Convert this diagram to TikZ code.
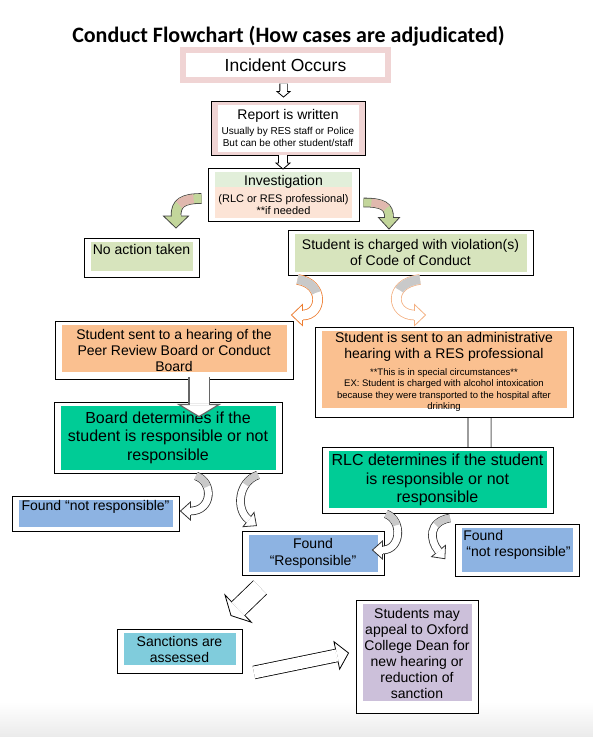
\documentclass[tikz,border=0pt]{standalone}
\usepackage{fontspec}
\setmainfont{Liberation Sans}
\newfontfamily\titlefont{Carlito}
\usetikzlibrary{calc, backgrounds}
\definecolor{cpink}{HTML}{F0D4D4}
\definecolor{cgreenL}{HTML}{E2EFDA}
\definecolor{cpeach}{HTML}{FCE4D6}
\definecolor{cgreen}{HTML}{D7E4BD}
\definecolor{corange}{HTML}{FAC090}
\definecolor{cteal}{HTML}{00CC96}
\definecolor{cblue}{HTML}{8DB3E2}
\definecolor{ccyan}{HTML}{80CCDC}
\definecolor{clav}{HTML}{CCC0DA}
\definecolor{cdark}{HTML}{ED7D31}
\definecolor{clight}{HTML}{F4B183}
\definecolor{cgrey}{HTML}{C9C9C9}
\definecolor{colive}{HTML}{C3D69B}
\definecolor{crose}{HTML}{E0B8AE}
\newcommand{\fs}[2]{\fontsize{#1}{#2}\selectfont\lineskiplimit=-20pt\relax}
\tikzset{
  cbox/.style={draw=black, line width=0.9pt, fill=white, inner sep=2pt, align=center, font=\fs{14}{16}},
  inb/.store in=\inb, inb=4,
  infill/.style={path picture={\fill[#1] ($(path picture bounding box.south west)+(6.5,-\inb)$) rectangle ($(path picture bounding box.north east)+(-6.5,3.5)$);}},
  blk w/.store in=\blkw, blk hw/.store in=\blkhw, blk hl/.store in=\blkhl, blk lw/.store in=\blklw,
  blk fill/.store in=\blkfill, blk line/.store in=\blkline,
  blk top/.store in=\blktop, blk toplen/.store in=\blktoplen, blk topoff/.store in=\blktopoff,
  blk w=8pt, blk hw=9pt, blk hl=10pt, blk lw=0.8pt, blk fill=white, blk line=black,
  blk top=white, blk toplen=0.1pt, blk topoff=0.01pt,
  hollow/.style={blk fill=white, blk line=black},
  bigarrow/.style={blk fill=white, blk line=black!60, blk lw=1.2pt},
  greenbend/.style={blk fill=colive, blk line=black!75, blk top=crose, blk topoff=8pt, blk toplen=16pt},
  orangebend/.style={blk fill=white, blk line=#1, blk top=cgrey, blk toplen=24pt, blk w=9pt, blk hw=10.5pt, blk hl=11pt},
  greybend/.style={blk fill=white, blk line=black!80, blk top=cgrey, blk toplen=16pt, blk w=7pt, blk hw=9pt, blk hl=10pt},
}
% block arrow body, uses (blkS) (blkA) (blkB) (blkH)
\newcommand{\blkdraw}{%
  \draw[draw=\blkline, line width=\blklw, double=\blkfill, double distance=\blkw]
    (blkS) .. controls (blkA) and (blkB) .. (blkH);
  \draw[draw=\blktop, line width=\blkw, dash pattern=on 0pt off \blktopoff on \blktoplen off 2000pt]
    (blkS) .. controls (blkA) and (blkB) .. (blkH);
  \filldraw[fill=\blkfill, draw=\blkline, line width=\blklw]
    ($(blkH)!\blkhw!90:(blkB)$) -- ($(blkH)!-\blkhl!(blkB)$) -- ($(blkH)!\blkhw!-90:(blkB)$) -- cycle;
  \draw[draw=\blkfill, line width=\blkw] ($(blkH)!0.9pt!(blkB)$) -- ($(blkH)!-0.6pt!(blkB)$);}
% straight: start, tip
\newcommand{\blockarrow}[3][]{%
  \begin{scope}[#1]
    \coordinate (blkS) at #2;
    \coordinate (blkT) at #3;
    \coordinate (blkH) at ($(blkT)!\blkhl!(blkS)$);
    \coordinate (blkA) at ($(blkS)!0.33!(blkH)$);
    \coordinate (blkB) at ($(blkS)!0.66!(blkH)$);
    \blkdraw
  \end{scope}}
% curved: start, control offset from start, control offset from end, head base
\newcommand{\bentarrow}[5][]{%
  \begin{scope}[#1]
    \coordinate (blkS) at #2;
    \coordinate (blkH) at #5;
    \coordinate (blkA) at ($(blkS)+#3$);
    \coordinate (blkB) at ($(blkH)+#4$);
    \blkdraw
  \end{scope}}

\begin{document}
\begin{tikzpicture}[x=1pt, y=-1pt]
  \useasboundingbox (0,0) rectangle (593,737);
  \shade[top color=white, bottom color=black!8] (0,702) rectangle (593,737);

  \node[font=\titlefont\fs{22}{26}\bfseries] (title) at (288.5,36) {Conduct Flowchart (How cases are adjudicated)};
  \node[draw=cpink, line width=6pt, fill=white, minimum width=205pt, minimum height=30pt, inner sep=0pt, font=\fs{17.5}{20}] (inc) at (285.5,65) {Incident Occurs};
  \node[cbox, fill=cpink, infill=white, inb=3, font=\fs{10}{12}, minimum width=154pt, minimum height=54pt] (rep) at (288,128)
    {{\fs{14}{16}Report is written}\\[3.5pt]Usually by RES staff or Police\\But can be other student/staff};
  \node[cbox, minimum width=151pt, minimum height=53pt, font=\fs{11}{12},
    path picture={\fill[cgreenL] ($(path picture bounding box.north west)+(7,4)$) rectangle ($(path picture bounding box.north east)+(-7,19)$);
      \fill[cpeach] ($(path picture bounding box.north west)+(7,19)$) rectangle ($(path picture bounding box.south east)+(-7,-3)$);}] (inv) at (283.5,194.5)
    {{\fs{14}{16}Investigation}\\[5pt](RLC or RES professional)\\**if needed};

  \node[cbox, infill=cgreen, inb=6, minimum width=115pt, minimum height=39pt, text depth=17pt] (no) at (141.5,257.5) {No action taken};
  \node[cbox, infill=cgreen, inb=3, minimum width=245pt, minimum height=45pt] (chg) at (410.5,252.5) {Student is charged with violation(s)\\of Code of Conduct};

  \node[cbox, infill=corange, inb=7, minimum width=238pt, minimum height=58pt] (peer) at (174,350) {Student sent to a hearing of the\\Peer Review Board or Conduct\\Board};
  \node[cbox, infill=corange, inb=9, minimum width=258pt, minimum height=90pt, font=\fs{9.5}{11.5}] (adm) at (444,372)
    {{\fs{14}{16}Student is sent to an administrative}\\[4.5pt]{\fs{14}{16}hearing with a RES professional}\\[5pt]**This is in special circumstances**\\EX: Student is charged with alcohol intoxication\\because they were transported to the hospital after\\drinking};

  \node[cbox, infill=cteal, inb=3, minimum width=228pt, minimum height=71pt, font=\fs{16}{18.5}] (board) at (168,437.5) {Board determines if the\\student is responsible or not\\responsible};
  \begin{scope}[on background layer]
    \blockarrow[bigarrow, blk w=22pt, blk hw=24pt, blk hl=12.5pt]{($(adm.south)+(35.5,-9)$)}{($(adm.south)+(35.5,83)$)}
  \end{scope}
  \node[cbox, infill=cteal, inb=5, minimum width=231pt, minimum height=66pt, font=\fs{16}{18.5}] (rlc) at (437.5,480) {RLC determines if the student\\is responsible or not\\responsible};

  \node[cbox, infill=cblue, minimum width=167pt, minimum height=35pt, text depth=16pt] (nrL) at (95.5,513.5) {Found “not responsible”};
  \node[cbox, infill=cblue, inb=3, minimum width=142pt, minimum height=44pt, font=\fs{14}{17}] (resp) at (313,553) {Found\\“Responsible”};
  \node[cbox, infill=cblue, minimum width=124pt, minimum height=52pt, align=left, text depth=13pt] (nrR) at (517,550) {Found\\\hspace*{3pt}“not responsible”};

  \node[cbox, infill=ccyan, inb=8, minimum width=125pt, minimum height=44pt, text depth=4pt] (sanc) at (179.5,651) {Sanctions are\\assessed};
  \node[cbox, infill=clav, inb=12, minimum width=122pt, minimum height=113pt, text depth=7pt] (appeal) at (417,656.5) {Students may\\appeal to Oxford\\College Dean for\\new hearing or\\reduction of\\sanction};

  % straight block arrows
  \blockarrow[hollow, blk w=6.5pt, blk hw=6.5pt, blk hl=5.5pt]{($(inc.south)+(-2,0.5)$)}{($(rep.north)+(-4.5,-3.5)$)}
  \blockarrow[hollow, blk w=8.5pt, blk hw=7pt, blk hl=6pt]{($(rep.south)+(-5,0)$)}{($(inv.north)+(-0.5,1.5)$)}
  \blockarrow[bigarrow, blk w=19pt, blk hw=20pt, blk hl=12pt]{($(peer.south)+(25,-2)$)}{($(board.north)+(31,15)$)}
  \blockarrow[hollow, blk w=18pt, blk hw=19pt, blk hl=10pt]{($(resp.south)+(-53,12)$)}{($(sanc.north)+(51.5,-13)$)}
  \blockarrow[hollow, blk w=12pt, blk hw=14pt, blk hl=12pt]{($(sanc.south east)+(11.5,-1)$)}{($(appeal.west)+(-7,-3.5)$)}

  % curved block arrows
  \bentarrow[greenbend, blk w=9pt, blk hw=12.5pt, blk hl=12pt]{($(inv.west)+(-6,4)$)}{(-19,0)}{(0,-13)}{($(no.north)+(34.5,-21.5)$)}
  \bentarrow[greenbend, blk w=8pt, blk hw=10.5pt, blk hl=11.5pt]{($(inv.east)+(4,8)$)}{(20,0)}{(0,-11)}{($(chg.north)+(-21.5,-12)$)}
  \bentarrow[orangebend=cdark]{($(chg.south west)+(10,4)$)}{(27,4)}{(20,0)}{($(peer.north east)+(9,-5.5)$)}
  \bentarrow[orangebend=clight]{($(chg.south)+(9.5,4)$)}{(-33,4)}{(-23,0)}{($(adm.north west)+(100,-11.5)$)}
  \bentarrow[greybend]{($(board.south)+(28,2.5)$)}{(18,6)}{(22,0)}{($(nrL.east)+(11,-2.5)$)}
  \bentarrow[greybend]{($(board.south)+(90,1.5)$)}{(-20,7)}{(-13,-10)}{($(resp.north west)+(7,-11)$)}
  \bentarrow[greybend]{($(rlc.south)+(-51.5,0.5)$)}{(17,6)}{(19,0)}{($(resp.east)+(-2,-3)$)}
  \bentarrow[greybend]{($(rlc.south)+(12.5,4.5)$)}{(-22,4)}{(-9,-11)}{($(nrR.west)+(-16,1)$)}
\end{tikzpicture}
\end{document}
